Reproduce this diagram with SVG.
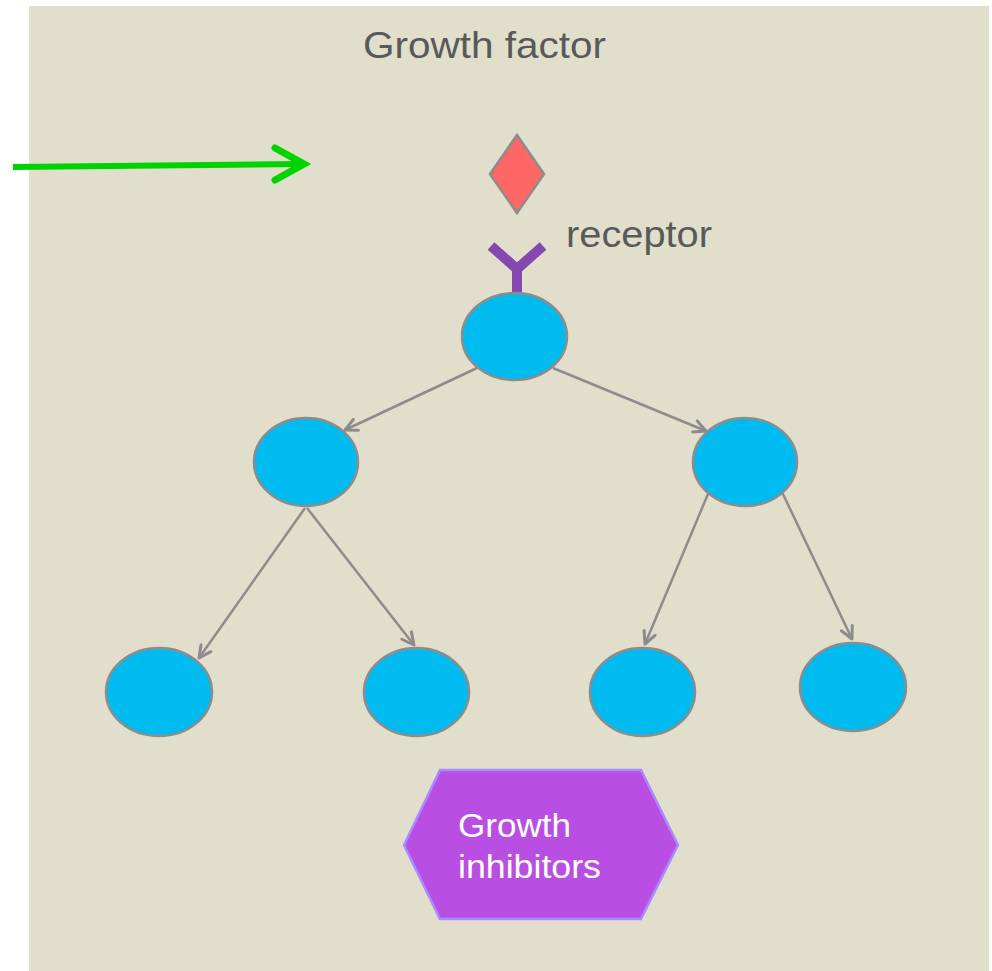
<svg xmlns="http://www.w3.org/2000/svg" width="992" height="971" viewBox="0 0 992 971">
  <defs>
    <marker id="head" viewBox="0 0 16 16" refX="14" refY="8" markerWidth="16" markerHeight="16" markerUnits="userSpaceOnUse" orient="auto">
      <path d="M2,2 L14,8 L2,14" fill="none" stroke="#8c8c8c" stroke-width="3" stroke-linecap="round" stroke-linejoin="round"/>
    </marker>
    <style>
      .cell { fill: #00bbf0; stroke: #8c8c8c; stroke-width: 2.5; }
      .link { stroke: #8c8c8c; stroke-width: 2.5; fill: none; marker-end: url(#head); }
      .label { font-family: "Liberation Sans", Arial, sans-serif; fill: #595959; }
      .inh { font-family: "Liberation Sans", Arial, sans-serif; fill: #ffffff; font-size: 34px; }
    </style>
  </defs>

  <rect x="0" y="0" width="992" height="971" fill="#ffffff"/>
  <rect x="29" y="6" width="960" height="965" fill="#e1dfcb"/>

  <g id="title">
    <text class="label" x="363" y="58" font-size="36" textLength="243" lengthAdjust="spacingAndGlyphs">Growth factor</text>
  </g>

  <g id="signal-arrow">
    <line x1="13" y1="167" x2="300" y2="164" stroke="#00d400" stroke-width="6"/>
    <path d="M275,148 L304,164 L275,180" fill="none" stroke="#00d400" stroke-width="7" stroke-linecap="round" stroke-linejoin="miter"/>
  </g>

  <g id="growth-factor">
    <polygon points="517,135 544,174 517,213 490,174" fill="#ff6666" stroke="#8c8c8c" stroke-width="2.5"/>
  </g>

  <g id="receptor">
    <path d="M491,246 L517,269 L543,246 M517,269 L517,294" fill="none" stroke="#8547b0" stroke-width="10"/>
    <text class="label" x="566" y="247" font-size="36" textLength="146" lengthAdjust="spacingAndGlyphs">receptor</text>
  </g>

  <g id="connectors">
    <line class="link" x1="477" y1="368" x2="345" y2="430"/>
    <line class="link" x1="553" y1="368" x2="706" y2="431"/>
    <line class="link" x1="305" y1="508" x2="199" y2="658"/>
    <line class="link" x1="307" y1="508" x2="414" y2="645"/>
    <line class="link" x1="708" y1="494" x2="645" y2="644"/>
    <line class="link" x1="782" y1="492" x2="852" y2="639"/>
  </g>

  <g id="node-top"><ellipse class="cell" cx="514.5" cy="336.5" rx="52.5" ry="43.5"/></g>
  <g id="node-mid-left"><ellipse class="cell" cx="306" cy="462" rx="52" ry="44"/></g>
  <g id="node-mid-right"><ellipse class="cell" cx="745" cy="462" rx="52" ry="44"/></g>
  <g id="node-bottom-1"><ellipse class="cell" cx="159" cy="692" rx="53" ry="44"/></g>
  <g id="node-bottom-2"><ellipse class="cell" cx="416.5" cy="692" rx="52.5" ry="44"/></g>
  <g id="node-bottom-3"><ellipse class="cell" cx="642.5" cy="692" rx="52.5" ry="44"/></g>
  <g id="node-bottom-4"><ellipse class="cell" cx="853" cy="687" rx="53" ry="44"/></g>

  <g id="growth-inhibitors">
    <polygon points="404,845 440,770 641,770 678,845 641,919 440,919" fill="#b94fe2" stroke="#a88cff" stroke-width="2.5"/>
    <text class="inh" x="458" y="837" textLength="113" lengthAdjust="spacingAndGlyphs">Growth</text>
    <text class="inh" x="458" y="878" textLength="143" lengthAdjust="spacingAndGlyphs">inhibitors</text>
  </g>
</svg>
